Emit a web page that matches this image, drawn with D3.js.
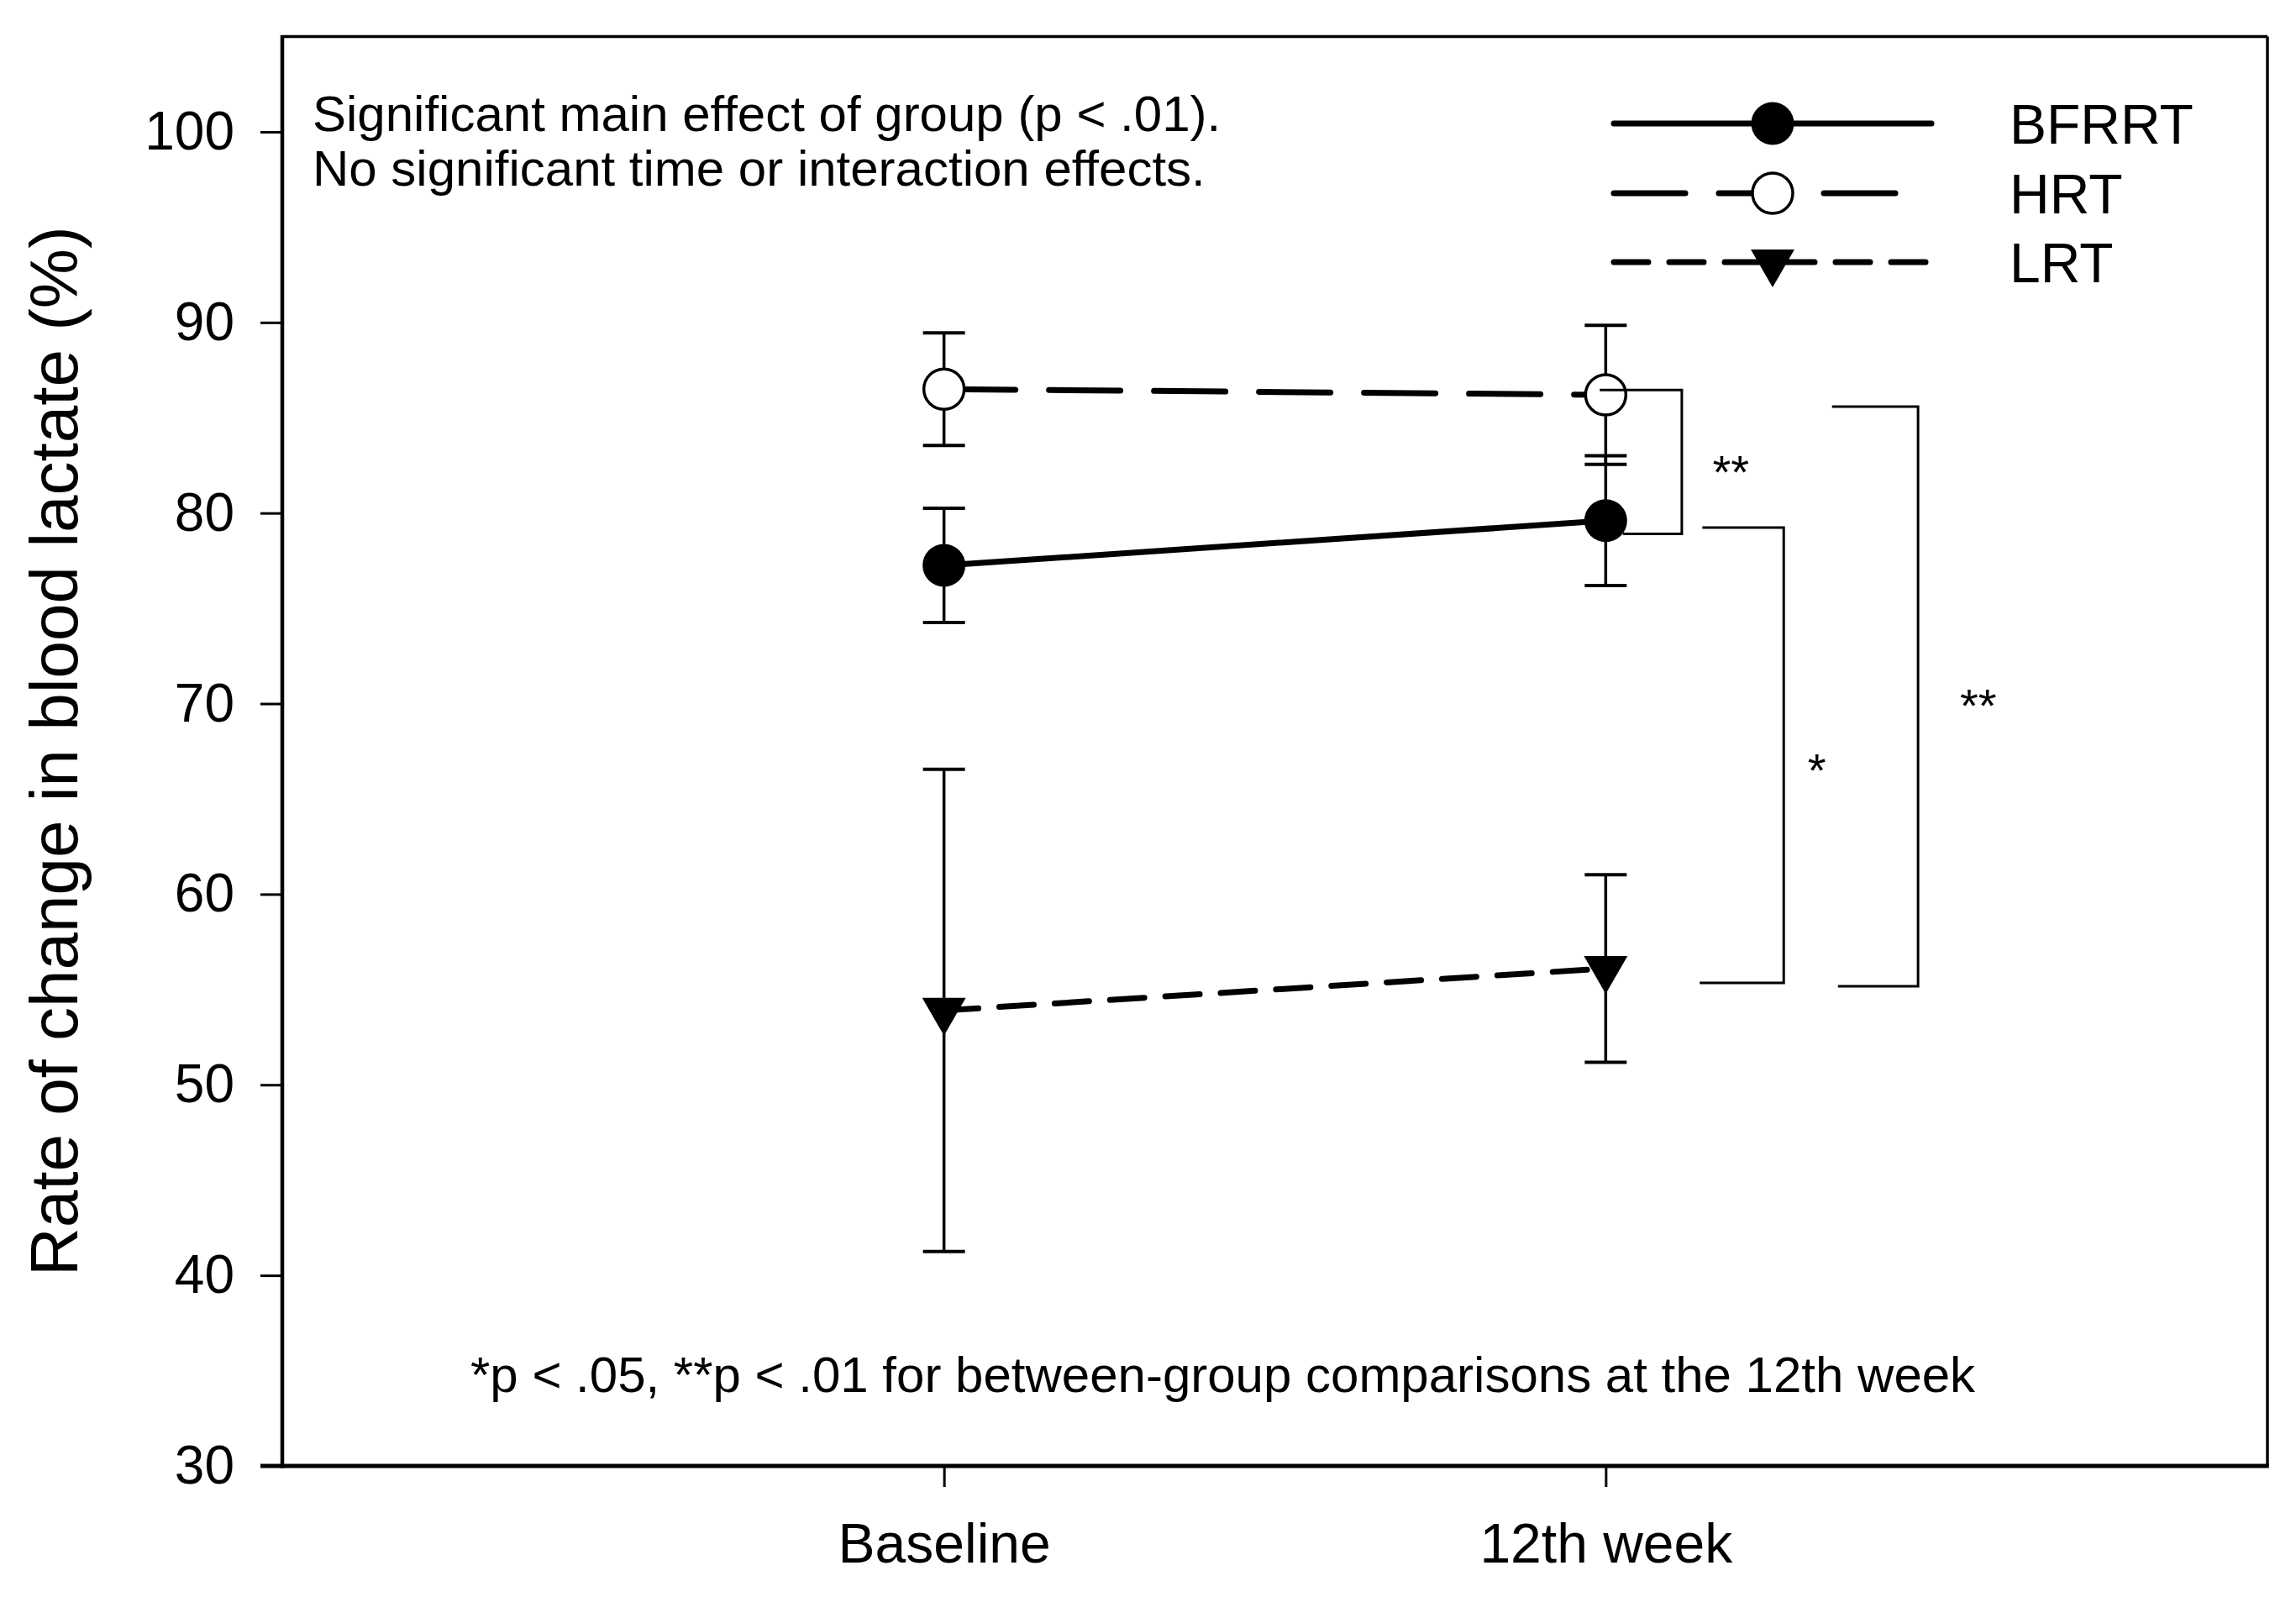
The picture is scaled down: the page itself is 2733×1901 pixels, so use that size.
<!DOCTYPE html>
<html>
<head>
<meta charset="utf-8">
<script src="https://cdn.jsdelivr.net/npm/d3@7"></script>
<style>
  html, body { margin: 0; padding: 0; background: #fff; }
  text { font-family: "Liberation Sans", Arial, sans-serif; fill: #000; }
</style>
</head>
<body>
<svg id="chart" width="2733" height="1901"></svg>
<script>
// ---------------- data ----------------
const categories = ["Baseline", "12th week"];
const timePoints = [1, 2];

const bfrrtMean = [77.25, 79.6];
const bfrrtErr  = [3.0, 3.4];
const hrtMean   = [86.5, 86.2];
const hrtErr    = [2.95, 3.65];
const lrtMean   = [53.9, 56.1];
const lrtErr    = [12.65, 4.92];

const yTicks = [30, 40, 50, 60, 70, 80, 90, 100];
const seriesNames = ["BFRRT", "HRT", "LRT"];

const yLabel = "Rate of change in blood lactate (%)";
const noteLines = ["Significant main effect of group (p < .01).",
                   "No significant time or interaction effects."];
const footnote = "*p < .05, **p < .01 for between-group comparisons at the 12th week";

// significance brackets (x in time units, y in data units)
const bracketTopStart = [1.991, 2.146, 2.342];
const bracketVertX    = [2.115, 2.269, 2.472];
const bracketBotStart = [2.026, 2.142, 2.351];
const bracketTopY     = [86.45, 79.24, 85.58];
const bracketBotY     = [78.9, 55.35, 55.17];
const starLabels = ["**", "*", "**"];
const starX = [2.189, 2.319, 2.563];
const starY = [82.72, 67.07, 70.47];

// ---------------- layout ----------------
const W = 2733, H = 1901;
const plot = { left: 336, right: 2699, top: 43.5, bottom: 1745 };

const svg = d3.select("#chart");
svg.append("rect").attr("width", W).attr("height", H).attr("fill", "#fff");

const x = d3.scaleLinear().domain([0, 3]).range([plot.left, plot.right]);
const y = d3.scaleLinear().domain([30, 105]).range([plot.bottom, plot.top]);

// box: top & right thinner
svg.append("line").attr("x1", plot.left).attr("x2", plot.right)
  .attr("y1", plot.top).attr("y2", plot.top)
  .attr("stroke", "#000").attr("stroke-width", 3.5);
svg.append("line").attr("x1", plot.right).attr("x2", plot.right)
  .attr("y1", plot.top).attr("y2", plot.bottom)
  .attr("stroke", "#000").attr("stroke-width", 3.5);

// y axis
const yAxis = svg.append("g")
  .attr("transform", `translate(${plot.left},0)`)
  .call(d3.axisLeft(y).tickValues(yTicks).tickSize(26).tickSizeOuter(0).tickPadding(31));
yAxis.select(".domain").remove();
yAxis.selectAll(".tick line").attr("stroke", "#000").attr("stroke-width", 3);
yAxis.selectAll(".tick text").attr("font-size", 64)
  .attr("font-family", "Liberation Sans, Arial, sans-serif").attr("fill", "#000");
svg.append("line").attr("x1", plot.left).attr("x2", plot.left)
  .attr("y1", plot.top - 1.5).attr("y2", plot.bottom + 2.5)
  .attr("stroke", "#000").attr("stroke-width", 4.5);

// x axis
const xAxis = svg.append("g")
  .attr("transform", `translate(0,${plot.bottom})`)
  .call(d3.axisBottom(x).tickValues(timePoints)
    .tickFormat((d, i) => categories[i]).tickSize(25).tickSizeOuter(0).tickPadding(43));
xAxis.select(".domain").remove();
xAxis.selectAll(".tick line").attr("stroke", "#000").attr("stroke-width", 3);
xAxis.selectAll(".tick text").attr("font-size", 66)
  .attr("font-family", "Liberation Sans, Arial, sans-serif").attr("fill", "#000");
svg.append("line").attr("x1", plot.left - 26).attr("x2", plot.right + 1.75)
  .attr("y1", plot.bottom).attr("y2", plot.bottom)
  .attr("stroke", "#000").attr("stroke-width", 5);

// y label
svg.append("text")
  .attr("transform", `translate(92,${(plot.top + plot.bottom) / 2}) rotate(-90)`)
  .attr("text-anchor", "middle")
  .attr("font-size", 80)
  .text(yLabel);

// ---------------- series ----------------
const series = [
  { name: seriesNames[0], mean: bfrrtMean, err: bfrrtErr, dash: null, marker: "filled", legEnd: 2299 },
  { name: seriesNames[1], mean: hrtMean, err: hrtErr, dash: "85,40", marker: "open", legEnd: 2258 },
  { name: seriesNames[2], mean: lrtMean, err: lrtErr, dash: "41,25", marker: "tri", legEnd: 2299 }
];

const capHalf = 25;
const gErr = svg.append("g");
series.forEach(s => {
  timePoints.forEach((t, i) => {
    const cx = x(t), hi = y(s.mean[i] + s.err[i]), lo = y(s.mean[i] - s.err[i]);
    gErr.append("line").attr("x1", cx).attr("x2", cx).attr("y1", hi).attr("y2", lo)
      .attr("stroke", "#000").attr("stroke-width", 3.5);
    [hi, lo].forEach(v => gErr.append("line")
      .attr("x1", cx - capHalf).attr("x2", cx + capHalf).attr("y1", v).attr("y2", v)
      .attr("stroke", "#000").attr("stroke-width", 4));
  });
});

const line = d3.line().x(d => x(d[0])).y(d => y(d[1]));
series.forEach(s => {
  svg.append("path")
    .attr("d", line(timePoints.map((t, i) => [t, s.mean[i]])))
    .attr("fill", "none").attr("stroke", "#000").attr("stroke-width", 7)
    .attr("stroke-linecap", "round")
    .attr("stroke-dasharray", s.dash);
});

const triSym = d3.symbol().type(d3.symbolTriangle).size(1169);
function drawMarker(g, type, cx, cy) {
  if (type === "filled") {
    g.append("circle").attr("cx", cx).attr("cy", cy).attr("r", 25.5).attr("fill", "#000");
  } else if (type === "open") {
    g.append("circle").attr("cx", cx).attr("cy", cy).attr("r", 24)
      .attr("fill", "#fff").attr("stroke", "#000").attr("stroke-width", 3.5);
  } else {
    g.append("path").attr("d", triSym())
      .attr("transform", `translate(${cx},${cy}) rotate(180)`).attr("fill", "#000");
  }
}
const gMarkers = svg.append("g");
series.forEach(s => {
  timePoints.forEach((t, i) => drawMarker(gMarkers, s.marker, x(t), y(s.mean[i])));
});

// ---------------- brackets ----------------
const gBr = svg.append("g");
bracketVertX.forEach((bx, i) => {
  const p = d3.path();
  p.moveTo(x(bracketTopStart[i]), y(bracketTopY[i]));
  p.lineTo(x(bx), y(bracketTopY[i]));
  p.lineTo(x(bx), y(bracketBotY[i]));
  p.lineTo(x(bracketBotStart[i]), y(bracketBotY[i]));
  gBr.append("path").attr("d", p.toString()).attr("fill", "none")
    .attr("stroke", "#000").attr("stroke-width", 3);
  gBr.append("text")
    .attr("x", x(starX[i])).attr("y", y(starY[i]) + 32)
    .attr("text-anchor", "middle").attr("font-size", 56)
    .text(starLabels[i]);
});

// ---------------- legend ----------------
const legY = [147, 230, 312];
const legX1 = 1921, legMx = 2110, legTx = 2392;
const gLeg = svg.append("g");
series.forEach((s, i) => {
  gLeg.append("line").attr("x1", legX1).attr("x2", s.legEnd)
    .attr("y1", legY[i]).attr("y2", legY[i])
    .attr("stroke", "#000").attr("stroke-width", 7).attr("stroke-linecap", "round")
    .attr("stroke-dasharray", s.dash);
  drawMarker(gLeg, s.marker, legMx, legY[i]);
  gLeg.append("text").attr("x", legTx).attr("y", legY[i] + 24)
    .attr("font-size", 66).text(s.name);
});

// ---------------- notes ----------------
noteLines.forEach((t, i) => {
  svg.append("text").attr("x", 372).attr("y", 156 + i * 65)
    .attr("font-size", 60).text(t);
});
svg.append("text").attr("x", 560).attr("y", 1657)
  .attr("font-size", 60).text(footnote);
</script>
</body>
</html>
